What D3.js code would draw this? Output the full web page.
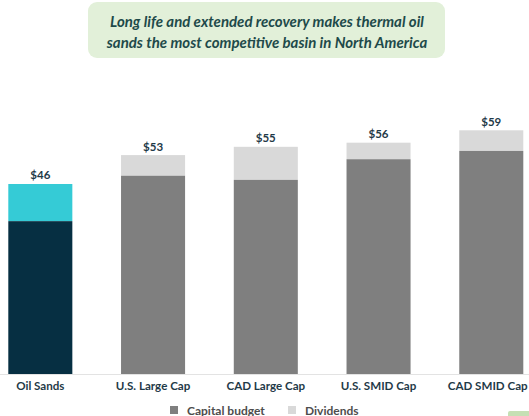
<!DOCTYPE html>
<html><head><meta charset="utf-8">
<script src="https://cdn.jsdelivr.net/npm/d3@7"></script>
<style>body{margin:0;background:#fff}svg{display:block}</style>
</head><body>
<svg id="c" width="529" height="416"></svg>
<script>
const categories = ["Oil Sands","U.S. Large Cap","CAD Large Cap","U.S. SMID Cap","CAD SMID Cap"];
const capitalBudget = [37, 48, 47, 52, 54];
const totals = [46, 53, 55, 56, 59];
const valueLabels = ["$46","$53","$55","$56","$59"];
const legendLabels = ["Capital budget","Dividends"];
const titleLines = ["Long life and extended recovery makes thermal oil","sands the most competitive basin in North America"];

const svg = d3.select("#c");
const font = "Lato, 'Open Sans', sans-serif";
const x = d3.scaleBand().domain(categories).range([8.3, 523.3]).paddingInner(0.432).paddingOuter(0);
const y = d3.scaleLinear().domain([0, 59]).range([374, 130.3]);

// title box
svg.append("rect").attr("x",88).attr("y",2).attr("width",357).attr("height",56).attr("rx",9)
  .attr("fill","#e2f0d9");
svg.selectAll("text.title").data(titleLines).join("text").attr("class","title")
  .attr("x",267).attr("y",(d,i)=>26.5+i*21).attr("text-anchor","middle")
  .attr("font-family",font).attr("font-style","italic").attr("font-weight","bold")
  .attr("font-size",15).attr("fill","#1e4a4a").text(d=>d);

// baseline
svg.append("line").attr("x1",0).attr("x2",529).attr("y1",374.5).attr("y2",374.5)
  .attr("stroke","#e3e3e3").attr("stroke-width",1);

const data = categories.map((c,i)=>({c, cap:capitalBudget[i], tot:totals[i], lab:valueLabels[i], i}));
// dividends (top part)
svg.selectAll("rect.div").data(data).join("rect").attr("class","div")
  .attr("x",d=>x(d.c)).attr("width",x.bandwidth())
  .attr("y",d=>y(d.tot)).attr("height",d=>y(d.cap)-y(d.tot))
  .attr("fill",d=>d.i===0?"#35cbd6":"#d9d9d9");
// capital budget
svg.selectAll("rect.cap").data(data).join("rect").attr("class","cap")
  .attr("x",d=>x(d.c)).attr("width",x.bandwidth())
  .attr("y",d=>y(d.cap)).attr("height",d=>y(0)-y(d.cap))
  .attr("fill",d=>d.i===0?"#062f42":"#7f7f7f");
// value labels
svg.selectAll("text.val").data(data).join("text").attr("class","val")
  .attr("x",d=>x(d.c)+x.bandwidth()/2).attr("y",d=>y(d.tot)-4.5)
  .attr("text-anchor","middle").attr("font-family",font).attr("font-weight","bold")
  .attr("font-size",11.5).attr("fill","#1f3a48").text(d=>d.lab);

// x axis labels
const ax = svg.append("g").attr("transform","translate(0,374)")
  .call(d3.axisBottom(x).tickSize(0).tickPadding(8));
ax.select(".domain").remove();
ax.selectAll("text").attr("font-family",font).attr("font-weight","bold")
  .attr("font-size",11.6).attr("fill","#1f3a48");
// keep the last label inside the frame
ax.selectAll(".tick").each(function(){
  const g = d3.select(this), t = g.select("text").node();
  const bb = t.getBBox();
  const tx = x(g.datum()) + x.bandwidth()/2;
  const right = tx + bb.x + bb.width;
  if (right > 528) g.select("text").attr("x", 528 - right);
});

// legend
const leg = [{l:legendLabels[0], c:"#7f7f7f", x:170},{l:legendLabels[1], c:"#d9d9d9", x:288}];
const lg = svg.selectAll("g.leg").data(leg).join("g").attr("class","leg")
  .attr("transform",d=>`translate(${d.x},406)`);
lg.append("rect").attr("width",8).attr("height",8).attr("fill",d=>d.c);
lg.append("text").attr("x",17).attr("y",8.5).attr("font-family",font).attr("font-weight","bold")
  .attr("font-size",12).attr("fill","#4d4d4d").text(d=>d.l);

// partial corner element
svg.append("rect").attr("x",508).attr("y",411).attr("width",25).attr("height",10).attr("rx",2).attr("fill","#c5e0b4");
</script>
</body></html>
